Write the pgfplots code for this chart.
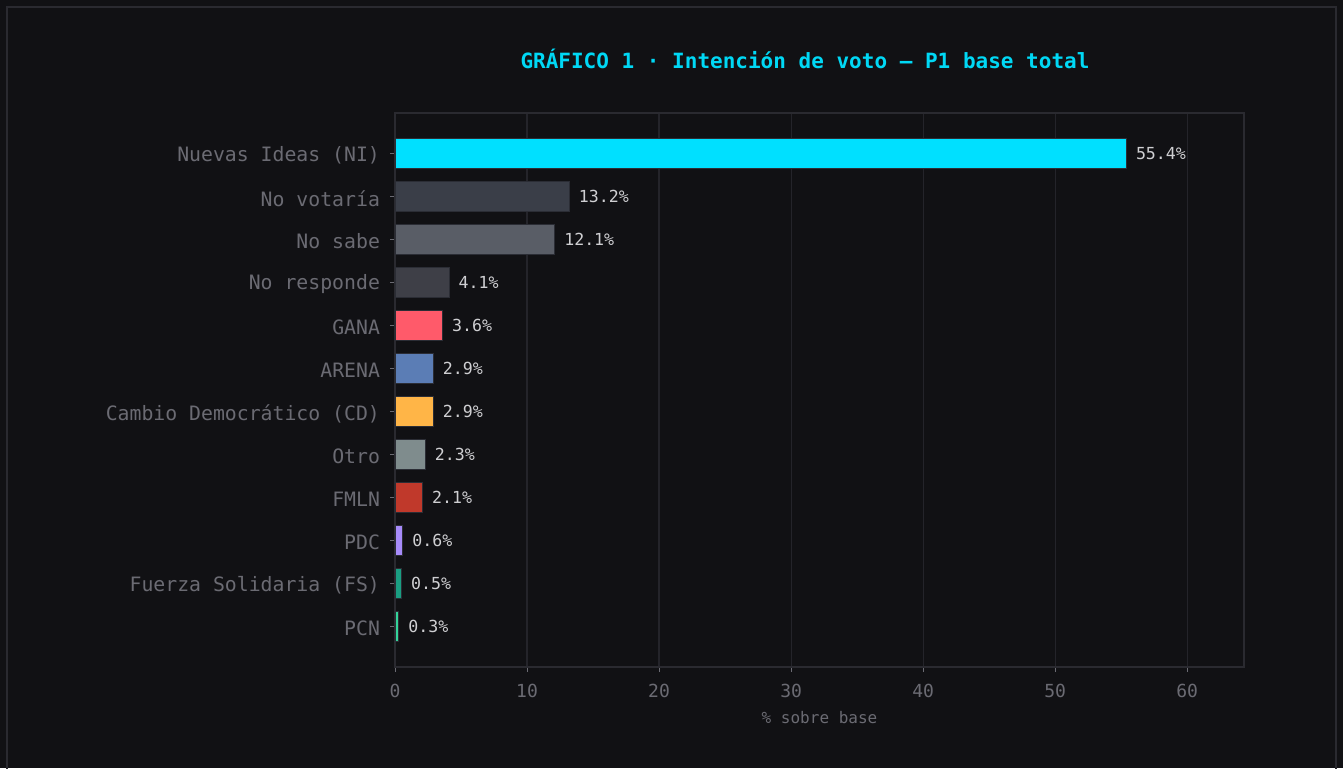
\documentclass[border=0pt]{standalone}
\usepackage{pgfplots}
\pgfplotsset{compat=1.18}
\usepackage{fontspec}
\setmainfont{DejaVu Sans Mono}
\definecolor{bg}{HTML}{111114}
\definecolor{framec}{HTML}{2A2A30}
\definecolor{gridc}{HTML}{24242A}
\definecolor{tickc}{HTML}{6B6B73}
\definecolor{vall}{HTML}{CFCFD2}
\definecolor{titlec}{HTML}{00D8F5}
\definecolor{edge}{HTML}{2B2D35}
\definecolor{cNI}{HTML}{00E0FF}
\definecolor{cNV}{HTML}{3A3E48}
\definecolor{cNS}{HTML}{595D66}
\definecolor{cNR}{HTML}{3E3F47}
\definecolor{cGANA}{HTML}{FF5A6A}
\definecolor{cARENA}{HTML}{5B7DB5}
\definecolor{cCD}{HTML}{FFB547}
\definecolor{cOTRO}{HTML}{7F8C8D}
\definecolor{cFMLN}{HTML}{C0392B}
\definecolor{cPDC}{HTML}{A78BFA}
\definecolor{cFS}{HTML}{1A9E82}
\definecolor{cPCN}{HTML}{34D399}
\begin{document}
\begin{tikzpicture}
\useasboundingbox (0,0) rectangle (671.5pt,384pt);
\fill[bg] (0,0) rectangle (671.5pt,384pt);
\begin{scope}
\clip (0,0) rectangle (671.5pt,384pt);
\draw[framec, line width=0.8pt] (3.5pt,-2pt) rectangle (668pt,380.5pt);
\end{scope}
\node[text=titlec, font=\bfseries\fontsize{10.5}{12}\selectfont] at (402.5pt,354.5pt)
  {GRÁFICO 1 · Intención de voto — P1 base total};
\begin{axis}[
  at={(197.5pt,50.5pt)}, anchor=south west,
  scale only axis, width=424.5pt, height=277pt,
  xbar, bar width=0.7, bar shift=0pt,
  xmin=0, xmax=64.3, ymin=-0.935, ymax=11.935,
  y dir=reverse,
  ytick={0,...,11},
  yticklabels={Nuevas Ideas (NI),No votaría,No sabe,No responde,GANA,ARENA,
    Cambio Democrático (CD),Otro,FMLN,PDC,Fuerza Solidaria (FS),PCN},
  xtick={0,10,...,60},
  xmajorgrids, grid style={gridc, line width=0.6pt},
  axis line style={framec, line width=0.6pt},
  tick align=outside, tick pos=left,
  major tick length=2.5pt,
  every tick/.style={tickc, line width=0.5pt},
  ticklabel style={text=tickc},
  yticklabel style={font=\fontsize{9.9}{11}\selectfont, xshift=-1.5pt, yshift=-1pt},
  xticklabel style={font=\fontsize{9}{10}\selectfont, yshift=-2.5pt},
  /pgf/number format/assume math mode=true,
  xlabel={\% sobre base},
  xlabel style={font=\fontsize{8}{9}\selectfont, text=tickc,
    at={(axis description cs:0.5,-0.092)}, anchor=center},
  point meta=x,
  nodes near coords={\pgfmathprintnumber[fixed,fixed zerofill,precision=1]{\pgfplotspointmeta}\%},
  nodes near coords style={font=\fontsize{8.3}{9}\selectfont, text=vall,
    anchor=west, inner sep=0pt, xshift=4.5pt},
  every axis plot/.append style={draw=edge, line width=0.5pt},
]
\addplot[fill=cNI] coordinates {(55.4,0)};
\addplot[fill=cNV] coordinates {(13.2,1)};
\addplot[fill=cNS] coordinates {(12.1,2)};
\addplot[fill=cNR] coordinates {(4.1,3)};
\addplot[fill=cGANA] coordinates {(3.6,4)};
\addplot[fill=cARENA] coordinates {(2.9,5)};
\addplot[fill=cCD] coordinates {(2.9,6)};
\addplot[fill=cOTRO] coordinates {(2.3,7)};
\addplot[fill=cFMLN] coordinates {(2.1,8)};
\addplot[fill=cPDC] coordinates {(0.6,9)};
\addplot[fill=cFS] coordinates {(0.5,10)};
\addplot[fill=cPCN] coordinates {(0.3,11)};
\end{axis}
\end{tikzpicture}
\end{document}
